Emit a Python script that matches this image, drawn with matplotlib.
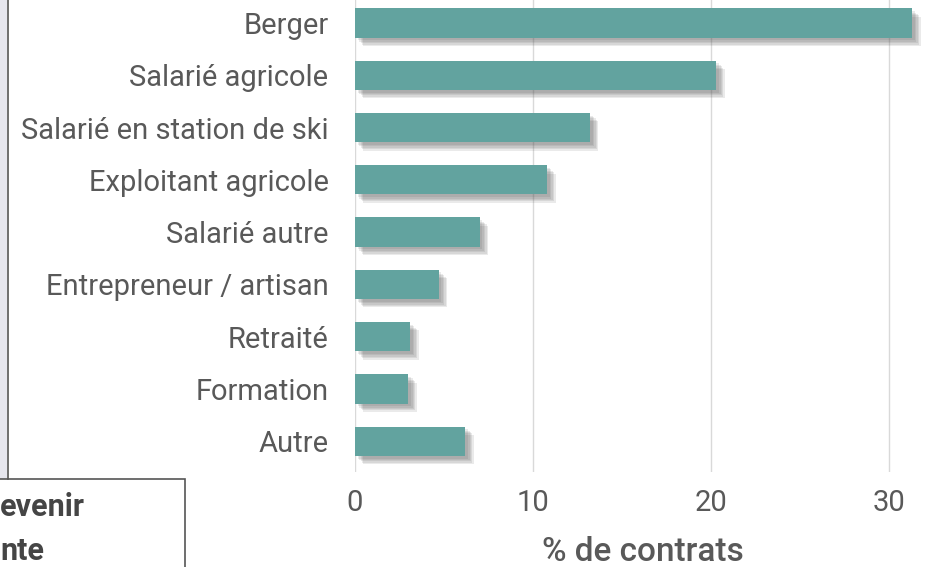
import matplotlib
matplotlib.use("Agg")
import matplotlib.pyplot as plt
import matplotlib.patheffects as pe
from matplotlib.patches import Rectangle

plt.rcParams['font.family'] = ['Roboto', 'DejaVu Sans']

categories = ["Berger", "Salarié agricole", "Salarié en station de ski",
              "Exploitant agricole", "Salarié autre", "Entrepreneur / artisan",
              "Retraité", "Formation", "Autre"]
values = [31.3, 20.3, 13.2, 10.8, 7.0, 4.7, 3.1, 3.0, 6.2]
xticks = [0, 10, 20, 30]

grey = "#595959"
bar_col = "#62a39f"

fig = plt.figure(figsize=(9.3, 5.67), dpi=100)
ax = fig.add_axes([355 / 930, 1 - 472 / 567, 1 - 355 / 930, 472 / 567])

pos = list(range(len(categories)))
bars = ax.barh(pos, values, height=0.56, color=bar_col, zorder=3)
shadow = [pe.SimplePatchShadow(offset=(k, -k), shadow_rgbFace="#555555", alpha=0.12)
          for k in (6, 5, 4, 3, 2)]
for b in bars:
    b.set_path_effects(shadow + [pe.Normal()])

ax.set_ylim(8.59, -0.44)
ax.set_xlim(0, 32.3)
ax.set_xticks(xticks)
ax.set_yticks(pos)
ax.set_yticklabels(categories)
ax.xaxis.grid(True, color="#d9d9d9", linewidth=1, zorder=0)
ax.tick_params(axis="both", length=0, labelsize=21, labelcolor=grey)
ax.tick_params(axis="y", pad=19)
ax.tick_params(axis="x", pad=12)
for s in ax.spines.values():
    s.set_visible(False)
ax.set_xlabel("% de contrats", fontsize=24, fontweight="medium", color=grey, labelpad=14)

# bits of the surrounding page visible in the screenshot
fig.patches.append(Rectangle((0, 1 - 479 / 567), 7 / 930, 479 / 567, transform=fig.transFigure,
                             facecolor="#e6e6ee", edgecolor="none", zorder=1))
fig.lines.append(plt.Line2D([7.5 / 930, 7.5 / 930], [1, 1 - 479 / 567], transform=fig.transFigure,
                            color="#555555", linewidth=1.2))
fig.patches.append(Rectangle((-0.01, -0.01), 185 / 930 + 0.01, (567 - 479) / 567 + 0.01,
                             transform=fig.transFigure, facecolor="white",
                             edgecolor="#555555", linewidth=1.2, zorder=1))
fig.text(0, 1 - 507 / 567, "evenir", fontsize=22, fontweight="bold", color="#454545",
         va="center", ha="left")
fig.text(0, 1 - 551 / 567, "nte", fontsize=22, fontweight="bold", color="#454545",
         va="center", ha="left")

fig.savefig("out.png", dpi=100)
